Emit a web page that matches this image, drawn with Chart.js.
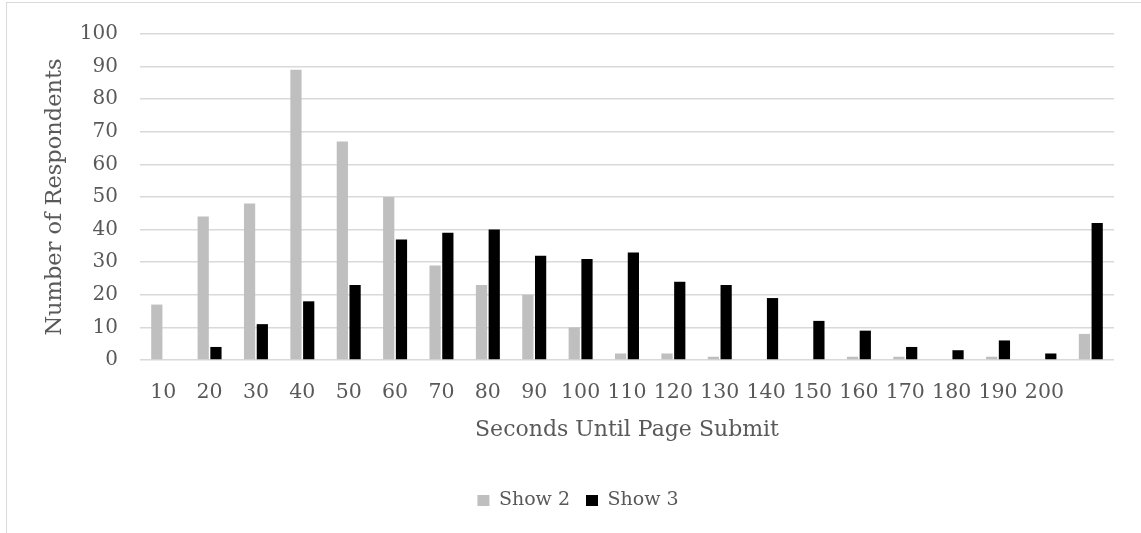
<!DOCTYPE html>
<html>
<head>
<meta charset="utf-8">
<script src="https://cdn.jsdelivr.net/npm/chart.js@4.4.1/dist/chart.umd.min.js"></script>
<style>
  html, body { margin: 0; padding: 0; background: #ffffff; }
  #wrap { position: relative; width: 1141px; height: 533px; overflow: hidden; }
  #frame { position: absolute; left: 6px; top: 2px; width: 1200px; height: 600px;
           border-top: 1px solid #d9d9d9; border-left: 1px solid #d9d9d9; box-sizing: border-box; }
  canvas { position: absolute; left: 0; top: 0; }
</style>
</head>
<body>
<div id="wrap">
  <div id="frame"></div>
  <canvas id="chart" width="1141" height="533"></canvas>
</div>
<script>
// Time-to-submit bins (seconds); the last bin is the open-ended tail
const categories = ['10','20','30','40','50','60','70','80','90','100','110','120','130','140','150','160','170','180','190','200',''];
const show2 = [17, 44, 48, 89, 67, 50, 29, 23, 20, 10, 2, 2, 1, 0, 0, 1, 1, 0, 1, 0, 8];
const show3 = [0, 4, 11, 18, 23, 37, 39, 40, 32, 31, 33, 24, 23, 19, 12, 9, 4, 3, 6, 2, 42];
const yTicks = [0, 10, 20, 30, 40, 50, 60, 70, 80, 90, 100];

const FONT = 'DejaVu Serif';
const TEXT = '#595959';

new Chart(document.getElementById('chart'), {
  type: 'bar',
  data: {
    labels: categories,
    datasets: [
      { label: 'Show 2', data: show2, backgroundColor: '#bfbfbf', barPercentage: 0.88, categoryPercentage: 0.55 },
      { label: 'Show 3', data: show3, backgroundColor: '#000000', barPercentage: 0.88, categoryPercentage: 0.55 }
    ]
  },
  options: {
    responsive: false,
    animation: false,
    layout: { padding: { left: 42, right: 27, top: 16, bottom: 13 } },
    plugins: {
      tooltip: { enabled: false },
      legend: {
        position: 'bottom',
        labels: {
          color: TEXT,
          font: { family: FONT, size: 19 },
          boxWidth: 12,
          boxHeight: 11,
          padding: 16
        }
      }
    },
    scales: {
      x: {
        afterFit: (s) => { s.height = 115; },
        grid: { display: false, drawTicks: false },
        border: { display: false },
        ticks: { color: TEXT, font: { family: FONT, size: 20.5 }, padding: 20, maxRotation: 0, autoSkip: false },
        title: { display: true, text: 'Seconds Until Page Submit', color: TEXT, font: { family: FONT, size: 22 }, padding: { top: 0, bottom: 32 } }
      },
      y: {
        min: 0,
        max: 100,
        afterBuildTicks: (s) => { s.ticks = yTicks.map(v => ({ value: v })); },
        afterFit: (s) => { s.width = 98; },
        grid: { color: '#d9d9d9', lineWidth: 1.5, drawTicks: false },
        border: { display: false },
        ticks: { color: TEXT, font: { family: FONT, size: 20 }, padding: 22 },
        title: { display: true, text: 'Number of Respondents', color: TEXT, font: { family: FONT, size: 22.5 }, padding: 0 }
      }
    }
  }
});
</script>
</body>
</html>
